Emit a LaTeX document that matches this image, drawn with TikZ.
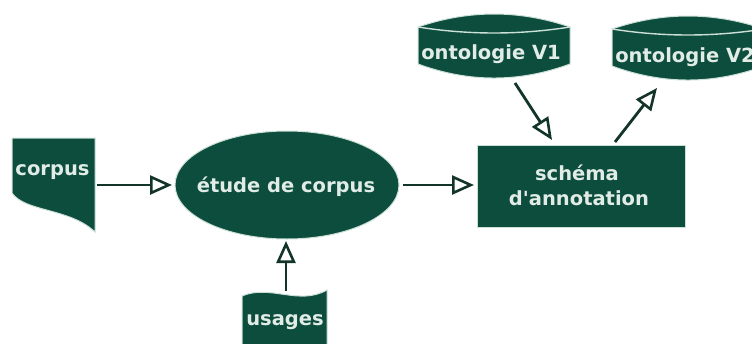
\documentclass[tikz,border=0pt]{standalone}
\usepackage{fontspec}
\setmainfont{DejaVu Sans}
\usetikzlibrary{arrows.meta,shapes.geometric,calc}
\definecolor{boxgreen}{RGB}{12,77,61}
\definecolor{labeltext}{RGB}{226,236,231}
\definecolor{linkline}{RGB}{18,52,41}
\definecolor{halo}{RGB}{205,224,215}

\begin{document}
\begin{tikzpicture}[x=1pt,y=-1pt,
  shapefill/.style={fill=boxgreen, draw=halo, line width=1pt},
  lbl/.style={text=labeltext, font=\fontsize{19.5}{25}\selectfont\bfseries, inner sep=0pt},
  anchorbox/.style={inner sep=0pt, outer sep=0pt},
  link/.style={draw=linkline, line width=2.8pt,
    -{Triangle[open, length=22pt, width=19pt, line width=2.6pt]}},
]
\useasboundingbox (0,0) rectangle (752,343);
\clip (0,0) rectangle (752,343);

% corpus: document sheet with a curled lower edge
\path[shapefill] (12,138) -- (95,138) -- (95,232)
  .. controls (70,208) and (25,212) .. (12,193) -- cycle;
\node[anchorbox, minimum width=83pt, minimum height=94pt] (corpus) at (53.5,185) {};
\node[lbl, anchor=base] (corpuslbl) at (52.5,175) {corpus};

% usages: wavy tape
\path[shapefill] (242,296) .. controls (270,284) and (299,306) .. (327,290)
  -- (327,356) .. controls (299,372) and (270,350) .. (242,362) -- cycle;
\node[anchorbox, minimum width=85pt, minimum height=69pt] (usages) at (286,325.5) {};
\node[lbl, anchor=base] (usageslbl) at (285,325) {usages};

% ontology versions: drums
\path[shapefill] (418,27) .. controls (468.7,9.7) and (519.3,9.7) .. (570,27)
  -- (570,64) .. controls (519.3,82.7) and (468.7,82.7) .. (418,64) -- cycle;
\draw[halo, line width=1.4pt] (418,27) .. controls (468.7,35) and (519.3,35) .. (570,27);
\node[anchorbox, minimum width=152pt, minimum height=64pt] (v1) at (494,46) {};
\node[lbl, anchor=base] (v1lbl) at (491,59) {ontologie V1};

\path[shapefill] (612,29) .. controls (662.7,11.7) and (713.3,11.7) .. (764,29)
  -- (764,66) .. controls (713.3,84.7) and (662.7,84.7) .. (612,66) -- cycle;
\draw[halo, line width=1.4pt] (612,29) .. controls (662.7,37) and (713.3,37) .. (764,29);
\node[anchorbox, minimum width=152pt, minimum height=63pt] (v2) at (688,48.5) {};
\node[lbl, anchor=base] (v2lbl) at (685,62) {ontologie V2};

% corpus study and annotation scheme
\node[ellipse, shapefill, anchorbox, minimum width=224pt, minimum height=108pt] (study) at (287,185) {};
\node[lbl, anchor=base] (studylbl) at (286,192) {étude de corpus};

\node[rectangle, shapefill, anchorbox, minimum width=208pt, minimum height=82pt] (scheme) at (581,186) {};
\node[lbl, anchor=base] (schemelbl1) at (577,180) {schéma};
\node[lbl, anchor=base] (schemelbl2) at (579,205) {d\textquotesingle annotation};

% connectors
\draw[link, shorten <=2pt, shorten >=3pt] (corpus.east) -- (corpus.east -| study.west);
\draw[link, shorten <=4pt, shorten >=3pt] (study.east) -- (study.east -| scheme.west);
\draw[link, shorten >=2pt] (usages.north) -- (usages.north |- study.south);
\draw[link] ($(v1.south)+(21,5)$) -- ($(scheme.north)+(-29,-5)$);
\draw[link] ($(scheme.north)+(34,-3)$) -- ($(v2.south)+(-31,8)$);
\end{tikzpicture}
\end{document}
